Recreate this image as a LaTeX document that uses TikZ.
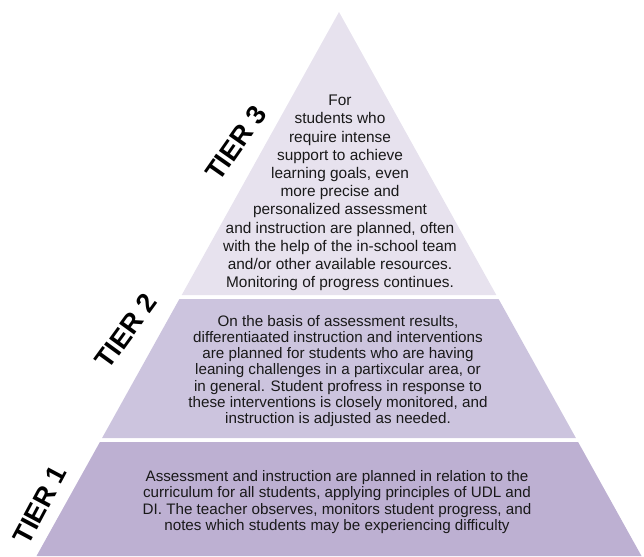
\documentclass[tikz,border=0pt]{standalone}
\usepackage{fontspec}
\setmainfont{Liberation Sans}
\definecolor{tierthree}{RGB}{231,226,238}
\definecolor{tiertwo}{RGB}{204,196,222}
\definecolor{tierone}{RGB}{189,176,210}
\definecolor{txt}{RGB}{25,25,25}
\begin{document}
\begin{tikzpicture}[x=1pt,y=-1pt,
  tierlabel/.style={font=\fontsize{27}{30}\selectfont\bfseries, text=black, inner sep=0pt},
  bodytext/.style={align=center, text=txt, inner sep=0pt},
  looseText/.style={bodytext, font=\fontsize{15.4}{18.2}\selectfont},
  tightText/.style={bodytext, font=\fontsize{15.2}{16.3}\selectfont}]
\useasboundingbox (0,0) rectangle (644,556);
% tiers (apex (339,12), half-width = 0.556*(y-12))
\fill[tierthree] (339,12) -- (496.3,295) -- (181.7,295) -- cycle;
\fill[tiertwo] (179.4,299) -- (498.6,299) -- (575.9,438) -- (102.1,438) -- cycle;
\fill[tierone] (99.9,442) -- (578.1,442) -- (641.5,556) -- (36.5,556) -- cycle;
% texts
\node[looseText] (t3) at (340,193) {For\\students who\\require intense\\support to achieve\\learning goals, even\\more precise and\\personalized assessment\\and instruction are planned, often\\with the help of the in-school team\\and/or other available resources.\\Monitoring of progress continues.};
\node[tightText] (t2) at (338,371) {On the basis of assessment results,\\differentiaated instruction and interventions\\are planned for students who are having\\leaning challenges in a partixcular area, or\\in general. Student profress in response to\\these interventions is closely monitored, and\\instruction is adjusted as needed.};
\node[tightText] (t1) at (337,502) {Assessment and instruction are planned in relation to the\\curriculum for all students, applying principles of UDL and\\DI. The teacher observes, monitors student progress, and\\notes which students may be experiencing difficulty};
% labels
\node[tierlabel, rotate=55] (l3) at (236,143) {TIER 3};
\node[tierlabel, rotate=54] (l2) at (126,331) {TIER 2};
\node[tierlabel, rotate=62] (l1) at (40,505) {TIER 1};
\end{tikzpicture}
\end{document}
